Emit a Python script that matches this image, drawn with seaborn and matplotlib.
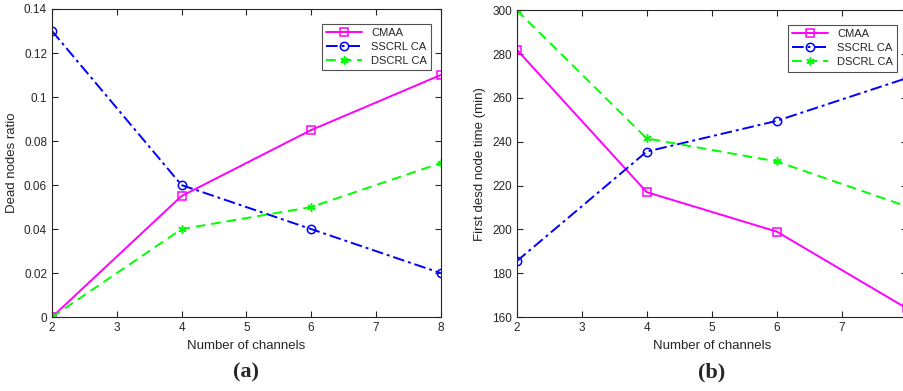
import pandas as pd
import matplotlib
matplotlib.use("Agg")
import matplotlib.pyplot as plt
import seaborn as sns

# channels on the x axis
channels = [2, 4, 6, 8]
series_names = ["CMAA", "SSCRL CA", "DSCRL CA"]

# (a) dead nodes ratio
dead_cmaa = [0.0, 0.055, 0.085, 0.11]
dead_sscrl = [0.13, 0.06, 0.04, 0.02]
dead_dscrl = [0.0, 0.04, 0.05, 0.07]

# (b) first dead node time (min)
first_cmaa = [282, 217, 199, 164]
first_sscrl = [185.5, 235.5, 249.5, 269]
first_dscrl = [300, 241.5, 231, 210.5]

sns.set_theme(style="ticks")
plt.rcParams['font.family'] = ['Liberation Sans', 'DejaVu Sans']

colors = ["#FF00FF", "#0000FF", "#00FF00"]
markers = ["s", "o", (6, 2, 0)]
styles = ["-", (0, (6, 2, 1.5, 2)), (0, (5, 3))]


def make_df(a, b, c):
    rows = []
    for name, vals in zip(series_names, [a, b, c]):
        for x, v in zip(channels, vals):
            rows.append({"channels": x, "value": v, "series": name})
    return pd.DataFrame(rows)


def draw(ax, df, ylim, yticks, ylabel, tag):
    for i, name in enumerate(series_names):
        sub = df[df["series"] == name]
        mfc = "none" if i < 2 else colors[i]
        sns.lineplot(data=sub, x="channels", y="value", ax=ax, color=colors[i],
                     linestyle=styles[i], marker=markers[i], markersize=6,
                     markerfacecolor=mfc, markeredgecolor=colors[i],
                     markeredgewidth=1.1, linewidth=1.4, label=name)
    ax.set_xlim(2, 8)
    ax.set_ylim(*ylim)
    ax.set_xticks(range(2, 9))
    ax.set_yticks(yticks)
    ax.tick_params(direction="in", top=True, right=True, labelsize=8.5,
                   colors="#262626", length=4, width=0.8)
    for s in ax.spines.values():
        s.set_color("#262626")
        s.set_linewidth(0.8)
    ax.set_xlabel("Number of channels", fontsize=9.5, color="#262626")
    ax.set_ylabel(ylabel, fontsize=9.5, color="#262626")
    leg = ax.legend(loc="upper right", fontsize=8, frameon=True, fancybox=False,
                    edgecolor="#262626", handlelength=3.2, borderpad=0.4,
                    labelspacing=0.35, bbox_to_anchor=(0.99, 0.97))
    leg.get_frame().set_linewidth(0.8)
    ax.text(0.5, -0.18, tag, transform=ax.transAxes, ha="center", va="center",
            fontsize=16, fontweight="bold", family="Liberation Serif")


fig = plt.figure(figsize=(9.04, 3.91), dpi=100)
ax1 = fig.add_axes([0.0575, 0.189, 0.430, 0.788])
ax2 = fig.add_axes([0.5716, 0.189, 0.4314, 0.785])

draw(ax1, make_df(dead_cmaa, dead_sscrl, dead_dscrl), (0, 0.14),
     [0, 0.02, 0.04, 0.06, 0.08, 0.1, 0.12, 0.14], "Dead nodes ratio", "(a)")
ax1.set_yticklabels(["0", "0.02", "0.04", "0.06", "0.08", "0.1", "0.12", "0.14"])
draw(ax2, make_df(first_cmaa, first_sscrl, first_dscrl), (160, 300),
     range(160, 301, 20), "First desd node time (min)", "(b)")

fig.savefig("out.png", dpi=100)
